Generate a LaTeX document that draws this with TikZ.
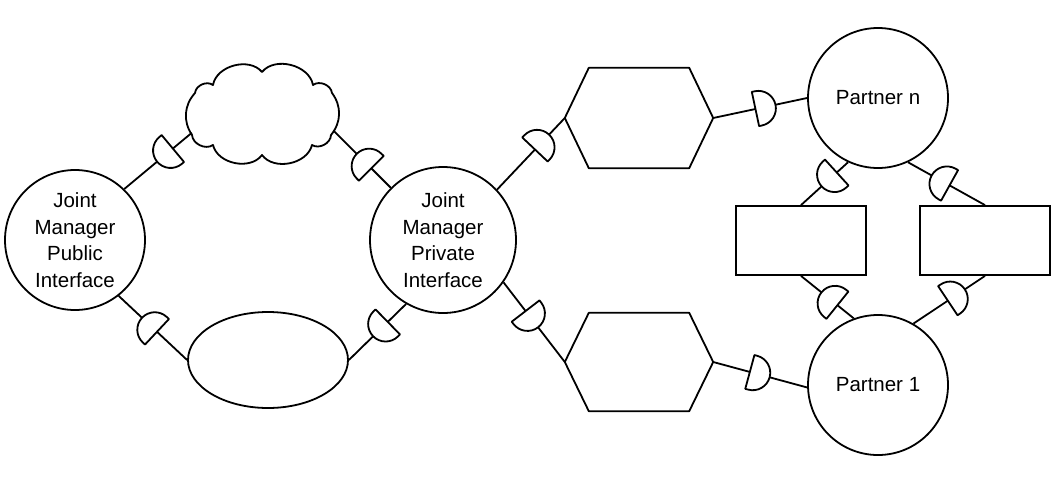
\documentclass[tikz,border=0pt]{standalone}
\usepackage{fontspec}
\setmainfont{Liberation Sans}
\usetikzlibrary{shapes.geometric,shapes.symbols}
\begin{document}
\begin{tikzpicture}[x=1pt,y=-1pt,
  lw/.style={line width=1.8pt},
  circ/.style={circle, draw, lw, minimum size=140pt, inner sep=0pt, align=center, font=\fontsize{20.5}{26.5}\selectfont},
  box/.style={rectangle, draw, lw, minimum width=130pt, minimum height=69pt},
  hexbox/.style={rectangle, inner sep=0pt, minimum width=148pt, minimum height=100pt},
  dgatef/.pic={\draw[line width=1.8pt, fill=white, line join=round] (0pt,-17.5pt) -- (0pt,17.5pt) -- (3pt,17.5pt) arc[start angle=90,end angle=-90,radius=17.5pt] -- cycle;},
  dgateb/.pic={\draw[line width=1.8pt, fill=white, line join=round] (0pt,-17.5pt) -- (0pt,17.5pt) -- (-3pt,17.5pt) arc[start angle=90,end angle=270,radius=17.5pt] -- cycle;}
]
\useasboundingbox (0,0) rectangle (1056,490);
\newcommand\connline[4]{\draw[lw] (#1) -- (#2); \path (#1) -- (#2) pic[pos=#3, sloped, allow upside down]{#4};}

\node[circ] (pub) at (75,240) {Joint\\Manager\\Public\\Interface};
\node[circ, minimum size=146pt] (priv) at (443,240) {Joint\\Manager\\Private\\Interface};
\node[circ] (pn) at (878,98) {Partner n};
\node[circ] (p1) at (878,385) {Partner 1};
% cloud: invisible ellipse for anchors, outline drawn with lobes
\node[ellipse, inner sep=0pt, minimum width=150pt, minimum height=105pt] (cl) at (262,114) {};
\draw[lw, line join=round] (262,72) to[bend right=65] (213,85) to[bend right=60] (195,93)
  to[bend right=38] (192,135) to[bend right=60] (213,145) to[bend right=65] (262,155)
  to[bend right=65] (312,145) to[bend right=60] (331,135) to[bend right=38] (332,93)
  to[bend right=60] (313,85) to[bend right=65] (262,72) -- cycle;
\node[ellipse, draw, lw, minimum width=160pt, minimum height=96pt] (el) at (268,360) {};
\node[box] (r1) at (801,240.5) {};
\node[box] (r2) at (985,240.5) {};
\node[hexbox] (h1) at (639,118) {};
\node[hexbox, minimum height=98pt] (h2) at (639,362) {};
\draw[lw, line join=round] (h1.west) -- ([xshift=24pt]h1.north west) -- ([xshift=-24pt]h1.north east) -- (h1.east) -- ([xshift=-24pt]h1.south east) -- ([xshift=24pt]h1.south west) -- cycle;
\draw[lw, line join=round] (h2.west) -- ([xshift=24pt]h2.north west) -- ([xshift=-24pt]h2.north east) -- (h2.east) -- ([xshift=-24pt]h2.south east) -- ([xshift=24pt]h2.south west) -- cycle;

\connline{pub.46}{cl.195}{0.72}{dgateb}
\connline{cl.347}{priv.135}{0.66}{dgateb}
\connline{priv.43}{h1.west}{0.56}{dgatef}
\connline{h1.east}{pn.180}{0.45}{dgatef}
\connline{pn.245}{r1.north}{0.24}{dgatef}
\connline{pn.295}{r2.north}{0.54}{dgateb}
\connline{r1.south}{p1.110}{0.69}{dgateb}
\connline{p1.60}{r2.south}{0.48}{dgatef}
\connline{pub.308}{el.west}{0.56}{dgateb}
\connline{el.east}{priv.240}{0.68}{dgateb}
\connline{priv.325}{h2.west}{0.36}{dgatef}
\connline{h2.east}{p1.182}{0.39}{dgatef}
\end{tikzpicture}
\end{document}
